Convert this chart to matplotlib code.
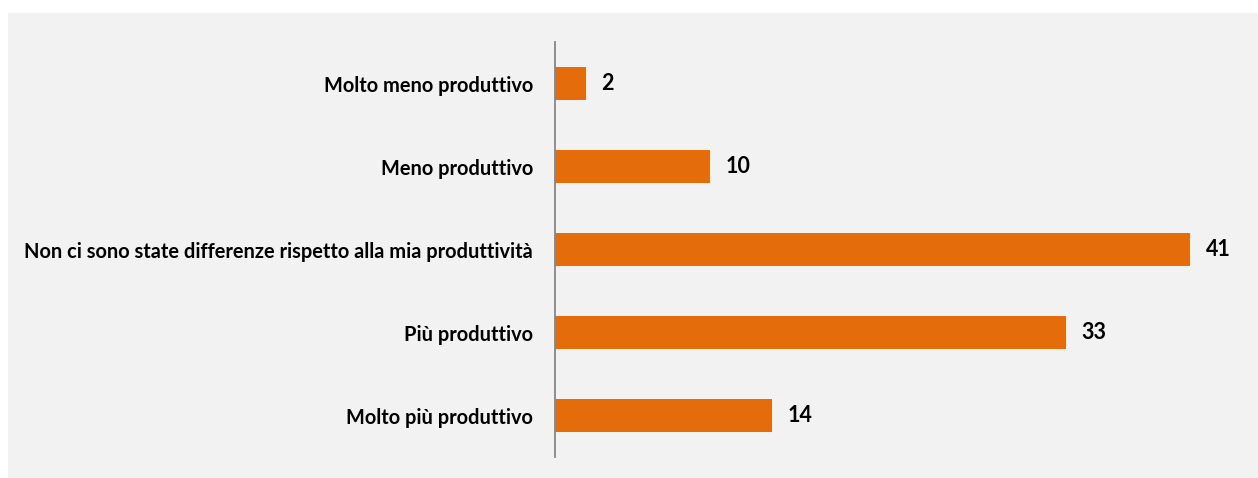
import matplotlib.pyplot as plt
from matplotlib.patches import Rectangle

# data
categories = ['Molto meno produttivo', 'Meno produttivo',
              'Non ci sono state differenze rispetto alla mia produttività',
              'Più produttivo', 'Molto più produttivo']
values = [2, 10, 41, 33, 14]

plt.rcParams['font.family'] = ['Lato', 'DejaVu Sans']

fig = plt.figure(figsize=(12.58, 4.78), dpi=100)
fig.patch.set_facecolor('white')
# grey chart area behind the axes
fig.add_artist(Rectangle((8 / 1258, 0), 1 - 8 / 1258, 1 - 13 / 478,
                         transform=fig.transFigure, facecolor='#F2F2F2',
                         edgecolor='none', zorder=-10))

ax = fig.add_axes([555 / 1258, 21 / 478, 697 / 1258, 415 / 478])
ax.set_facecolor('none')

y = list(range(len(categories)))
ax.barh(y, values, height=0.4, color='#E46C0A')
for yi, v in zip(y, values):
    ax.text(v + 1.0, yi, str(v), va='center', ha='left',
            fontsize=15.5, fontweight='bold', color='black')

ax.set_yticks(y)
ax.set_yticklabels(categories, fontsize=14.4, fontweight='bold')
ax.set_ylim(len(categories) - 0.5, -0.5)
ax.set_xlim(0, 45)
ax.set_xticks([])
ax.tick_params(axis='y', length=0, pad=16)

for s in ['top', 'right', 'bottom']:
    ax.spines[s].set_visible(False)
ax.spines['left'].set_color('#868686')
ax.spines['left'].set_linewidth(1.3)

fig.savefig('out.png', dpi=100)
